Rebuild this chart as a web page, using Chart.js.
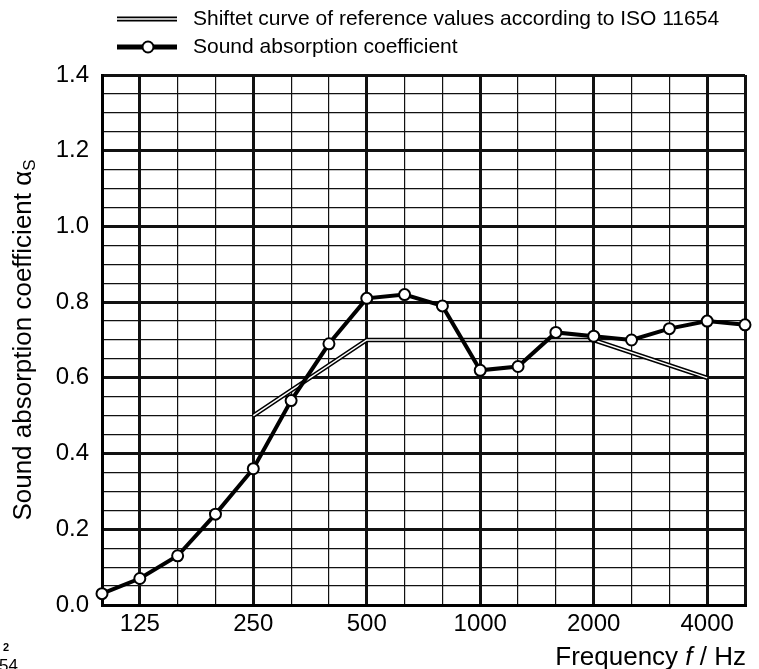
<!DOCTYPE html>
<html>
<head>
<meta charset="utf-8">
<script src="https://cdn.jsdelivr.net/npm/chart.js@4"></script>
<style>
  body { margin: 0; background: #fff; }
  #wrap { width: 759px; height: 669px; position: relative; }
</style>
</head>
<body>
<div id="wrap"><canvas id="grafico"></canvas></div>
<script>
// third-octave bands 100 .. 5000 Hz
const bands = ['100', '125', '160', '200', '250', '315', '400', '500', '630', '800',
               '1000', '1250', '1600', '2000', '2500', '3150', '4000', '5000'];
const labeledBands = ['125', '250', '500', '1000', '2000', '4000'];
const absorption = [0.03, 0.07, 0.13, 0.24, 0.36, 0.54, 0.69, 0.81, 0.82, 0.79,
                    0.62, 0.63, 0.72, 0.71, 0.70, 0.73, 0.75, 0.74];
// shifted ISO 11654 reference curve
const refBands = ['250', '500', '1000', '2000', '4000'];
const refValues = [0.50, 0.70, 0.70, 0.70, 0.60];
const yMajorLabels = ['0.0', '0.2', '0.4', '0.6', '0.8', '1.0', '1.2', '1.4'];

const FONT = '"Liberation Sans", Arial, sans-serif';

const puntos = absorption.map((v, i) => ({ x: i, y: v }));
const refPuntos = refBands.map((b, i) => ({ x: bands.indexOf(b), y: refValues[i] }));

const majorX = i => i === 0 || i === bands.length - 1 || labeledBands.includes(bands[i]);
const majorY = v => Math.abs(v / 0.2 - Math.round(v / 0.2)) < 1e-6;

// legend, axis titles and the clipped text at bottom left
const extras = {
    id: 'extras',
    afterDraw(chart) {
        const c = chart.ctx;
        c.save();
        c.fillStyle = '#000';
        c.strokeStyle = '#000';
        c.textBaseline = 'middle';
        c.textAlign = 'left';
        c.font = '21px ' + FONT;

        // fila 1: doble línea
        c.lineWidth = 5;
        c.beginPath(); c.moveTo(117, 19); c.lineTo(177, 19); c.stroke();
        c.strokeStyle = '#fff';
        c.lineWidth = 1.6;
        c.beginPath(); c.moveTo(117, 19); c.lineTo(177, 19); c.stroke();
        c.fillText('Shiftet curve of reference values according to ISO 11654', 193, 19);

        // fila 2: línea con punto
        c.strokeStyle = '#000';
        c.lineWidth = 5;
        c.beginPath(); c.moveTo(117, 47); c.lineTo(177, 47); c.stroke();
        c.beginPath(); c.arc(148, 47, 5.5, 0, Math.PI * 2);
        c.fillStyle = '#fff'; c.fill();
        c.lineWidth = 2; c.stroke();
        c.fillStyle = '#000';
        c.fillText('Sound absorption coefficient', 193, 47);

        // título eje y
        const area = chart.chartArea;
        const main = 'Sound absorption coefficient α';
        c.font = '26px ' + FONT;
        const w1 = c.measureText(main).width;
        c.font = '17px ' + FONT;
        const w2 = c.measureText('S').width;
        c.save();
        c.translate(24, (area.top + area.bottom) / 2);
        c.rotate(-Math.PI / 2);
        c.textAlign = 'left';
        c.font = '26px ' + FONT;
        const x0 = -(w1 + w2) / 2;
        c.fillText(main, x0, 0);
        c.font = '17px ' + FONT;
        c.fillText('S', x0 + w1, 6);
        c.restore();

        // título eje x
        c.textBaseline = 'alphabetic';
        const parts = [['Frequency ', 'normal'], ['f', 'italic'], [' / Hz', 'normal']];
        let total = 0;
        parts.forEach(p => { c.font = p[1] + ' 26px ' + FONT; total += c.measureText(p[0]).width; });
        let x = 746 - total;
        parts.forEach(p => {
            c.font = p[1] + ' 26px ' + FONT;
            c.fillText(p[0], x, 665);
            x += c.measureText(p[0]).width;
        });

        // texto cortado abajo a la izquierda
        c.font = 'bold 11px ' + FONT;
        c.fillText('2', 3, 651);
        c.font = '17px ' + FONT;
        c.fillText('54', -1, 671);
        c.restore();
    }
};

new Chart(document.getElementById('grafico'), {
    type: 'line',
    data: {
        datasets: [{
            label: 'Sound absorption coefficient',
            data: puntos,
            borderColor: '#000',
            borderWidth: 4,
            pointRadius: 5.5,
            pointBackgroundColor: '#fff',
            pointBorderColor: '#000',
            pointBorderWidth: 2,
            tension: 0,
            clip: false,
            order: 0
        }, {
            label: 'ref inner',
            data: refPuntos,
            borderColor: '#fff',
            borderWidth: 1.5,
            pointRadius: 0,
            tension: 0,
            order: 1
        }, {
            label: 'Shiftet curve of reference values according to ISO 11654',
            data: refPuntos,
            borderColor: '#000',
            borderWidth: 4.5,
            pointRadius: 0,
            tension: 0,
            order: 2
        }]
    },
    options: {
        responsive: true,
        maintainAspectRatio: false,
        animation: false,
        events: [],
        layout: { padding: { top: 75, right: 14, bottom: 0, left: 0 } },
        plugins: {
            legend: { display: false },
            tooltip: { enabled: false }
        },
        scales: {
            x: {
                type: 'linear',
                min: 0,
                max: bands.length - 1,
                afterFit: s => { s.height = 64; },
                afterBuildTicks: s => { s.ticks = bands.map((b, i) => ({ value: i })); },
                ticks: {
                    autoSkip: false,
                    maxRotation: 0,
                    padding: 5,
                    color: '#000',
                    font: { size: 24, family: FONT },
                    callback: v => labeledBands.includes(bands[v]) ? bands[v] : ''
                },
                grid: {
                    drawTicks: false,
                    color: '#111',
                    lineWidth: ctx => majorX(ctx.index) ? 3 : 1.2
                },
                border: { color: '#000', width: 3 }
            },
            y: {
                min: 0,
                max: 1.4,
                afterFit: s => { s.width = 102; },
                ticks: {
                    stepSize: 0.05,
                    autoSkip: false,
                    padding: 13,
                    color: '#000',
                    font: { size: 24, family: FONT },
                    callback: v => majorY(v) ? yMajorLabels[Math.round(v / 0.2)] : ''
                },
                grid: {
                    drawTicks: false,
                    color: '#111',
                    lineWidth: ctx => majorY(ctx.tick.value) ? 3 : 1.2
                },
                border: { color: '#000', width: 3 }
            }
        }
    },
    plugins: [extras]
});
</script>
</body>
</html>
